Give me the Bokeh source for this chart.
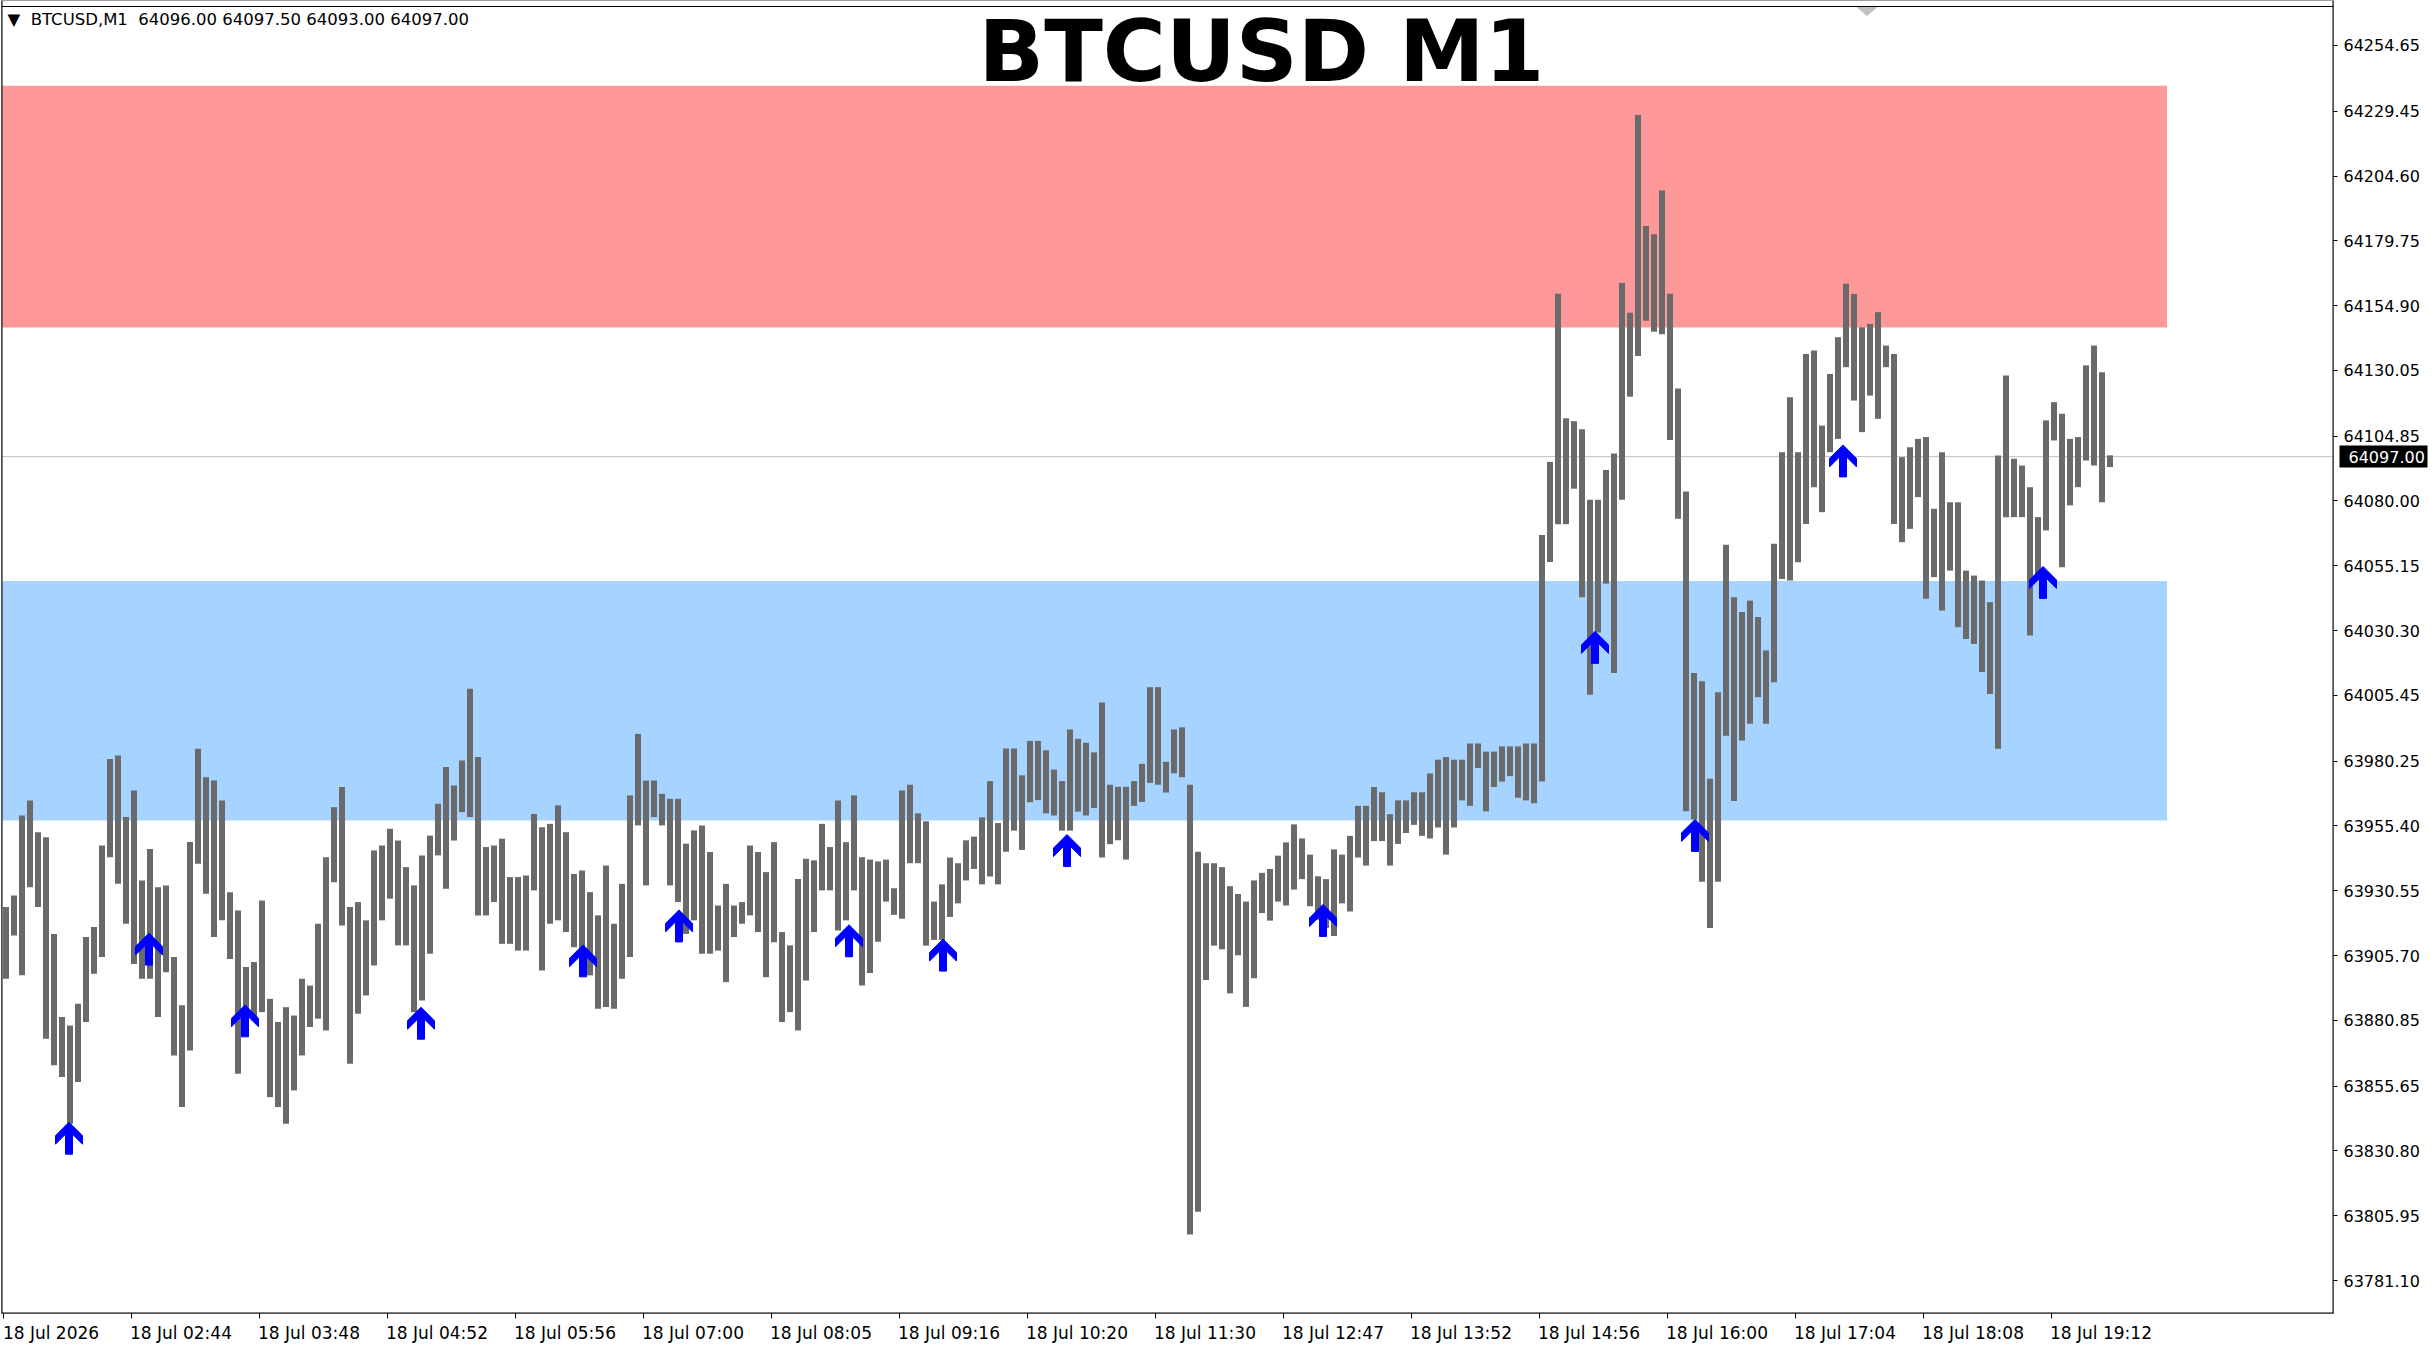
from bokeh.plotting import figure
from bokeh.models import (Range1d, LinearAxis, FixedTicker, PrintfTickFormatter,
                          Span, Label, ColumnDataSource)
from bokeh.embed import file_html
from bokeh.resources import INLINE

# ---------------- data ----------------
chart_title = "BTCUSD M1"
info_text = "\u25BC\u00A0\u00A0BTCUSD,M1\u00A0 64096.00 64097.50 64093.00 64097.00"
last_price = 64097.00
bars_per_group = 4          # each entry below = high / low of 4 one-minute bars

group_high = [
    63924.3, 63928.7, 63959.4, 63965.2, 63953.0, 63951.1, 63914.0, 63882.1, 63878.9, 63887.2,
    63912.8, 63916.6, 63947.9, 63981.1, 63982.4, 63958.8, 63969.0, 63934.5, 63946.6, 63931.9,
    63932.6, 63905.1, 63886.6, 63949.2, 63985.0, 63974.1, 63972.8, 63965.2, 63930.0, 63923.0,
    63901.3, 63903.2, 63926.8, 63889.1, 63880.2, 63885.9, 63882.7, 63896.8, 63894.2, 63917.9,
    63943.4, 63962.6, 63970.3, 63924.3, 63926.2, 63919.2, 63946.0, 63947.9, 63954.3, 63949.8,
    63939.6, 63932.6, 63944.1, 63951.7, 63963.9, 63978.0, 63970.9, 63980.5, 64008.0, 63981.8,
    63947.3, 63947.9, 63950.5, 63935.8, 63935.8, 63936.4, 63960.0, 63954.9, 63956.2, 63963.3,
    63953.0, 63937.0, 63938.3, 63930.0, 63921.1, 63940.2, 63917.9, 63933.2, 63967.1, 63990.7,
    63972.8, 63972.8, 63967.7, 63965.8, 63965.8, 63948.6, 63953.7, 63955.6, 63945.4, 63924.9,
    63933.2, 63924.9, 63926.2, 63947.9, 63945.4, 63937.7, 63949.2, 63914.7, 63909.6, 63935.1,
    63942.8, 63942.2, 63956.2, 63947.3, 63965.2, 63949.2, 63967.1, 63943.4, 63942.5, 63941.8,
    63942.5, 63931.5, 63969.0, 63971.2, 63960.2, 63957.2, 63926.4, 63933.0, 63943.3, 63941.1,
    63949.9, 63951.3, 63958.7, 63972.6, 63956.5, 63985.1, 63985.1, 63974.8, 63988.0, 63988.0,
    63984.4, 63977.0, 63972.6, 63992.4, 63988.8, 63987.3, 63983.6, 64002.7, 63971.2, 63970.4,
    63970.4, 63972.6, 63979.2, 64008.6, 64008.6, 63980.0, 63992.4, 63993.2, 63971.2, 63945.5,
    63941.1, 63941.1, 63939.6, 63932.3, 63929.3, 63926.4, 63934.5, 63937.4, 63938.9, 63944.0,
    63949.1, 63956.0, 63950.6, 63944.4, 63936.1, 63935.0, 63946.4, 63944.4, 63951.6, 63963.1,
    63963.1, 63970.3, 63968.3, 63959.9, 63965.2, 63965.2, 63968.3, 63968.3, 63975.5, 63980.8,
    63981.8, 63980.8, 63980.8, 63987.0, 63987.0, 63983.9, 63983.9, 63985.9, 63985.9, 63985.9,
    63987.0, 63987.0, 64067.0, 64095.0, 64159.5, 64111.7, 64110.6, 64107.5, 64080.5, 64080.5,
    64091.9, 64098.2, 64163.6, 64152.2, 64228.0, 64185.4, 64182.3, 64199.0, 64159.5, 64123.1,
    64083.6, 64014.0, 64010.9, 63973.5, 64006.7, 64063.2, 64043.1, 64037.4, 64041.8, 64035.5,
    64022.7, 64063.6, 64098.7, 64119.8, 64098.7, 64136.4, 64137.7, 64108.9, 64128.7, 64142.8,
    64163.3, 64159.4, 64146.6, 64147.9, 64152.4, 64139.6, 64136.4, 64096.8, 64100.6, 64103.8,
    64104.5, 64077.0, 64098.7, 64079.5, 64079.5, 64053.3, 64051.4, 64049.5, 64041.2, 64097.4,
    64128.1, 64096.2, 64093.6, 64085.3, 64073.8, 64110.9, 64117.9, 64113.4, 64103.8, 64104.5,
    64132.0, 64139.6, 64129.4, 64097.5,
]
group_low = [
    63896.8, 63913.4, 63898.1, 63931.9, 63924.3, 63873.8, 63863.6, 63859.1, 63841.2, 63857.2,
    63880.2, 63898.7, 63905.1, 63943.4, 63933.2, 63917.9, 63902.5, 63896.8, 63896.8, 63882.1,
    63899.3, 63867.4, 63847.6, 63869.3, 63940.9, 63929.4, 63912.8, 63919.2, 63904.4, 63860.4,
    63882.1, 63880.8, 63884.0, 63851.4, 63847.6, 63841.2, 63854.0, 63867.4, 63878.3, 63881.5,
    63877.0, 63933.8, 63917.2, 63864.2, 63883.4, 63890.4, 63901.9, 63919.2, 63927.5, 63909.6,
    63909.6, 63884.0, 63888.5, 63906.4, 63944.1, 63931.3, 63949.8, 63960.7, 63958.8, 63921.1,
    63921.1, 63926.2, 63910.2, 63910.2, 63907.6, 63907.6, 63930.7, 63900.0, 63917.9, 63919.2,
    63914.7, 63908.9, 63902.5, 63898.1, 63885.3, 63886.0, 63885.3, 63896.8, 63905.1, 63955.6,
    63932.6, 63958.8, 63955.6, 63932.6, 63926.2, 63914.0, 63919.2, 63906.4, 63906.4, 63907.6,
    63895.5, 63912.8, 63917.9, 63921.1, 63914.7, 63897.4, 63910.8, 63880.2, 63884.0, 63877.0,
    63896.1, 63914.7, 63930.7, 63930.7, 63915.3, 63919.2, 63930.7, 63894.2, 63899.0, 63911.0,
    63926.4, 63921.3, 63919.8, 63941.1, 63941.1, 63909.5, 63911.7, 63911.7, 63920.5, 63925.7,
    63934.5, 63938.9, 63933.0, 63936.0, 63933.0, 63945.5, 63953.6, 63946.2, 63964.5, 63965.3,
    63960.2, 63959.4, 63953.6, 63953.6, 63960.9, 63959.4, 63962.3, 63943.3, 63948.4, 63949.9,
    63942.5, 63963.1, 63964.6, 63971.9, 63971.2, 63968.2, 63975.6, 63974.1, 63798.7, 63807.5,
    63896.3, 63909.5, 63908.1, 63891.2, 63905.8, 63886.0, 63897.0, 63922.0, 63919.1, 63926.4,
    63924.9, 63931.0, 63935.0, 63924.6, 63919.4, 63916.3, 63913.2, 63925.7, 63922.6, 63943.3,
    63940.2, 63949.6, 63949.6, 63940.2, 63948.5, 63952.7, 63955.8, 63951.6, 63950.6, 63954.8,
    63944.4, 63954.8, 63965.2, 63963.1, 63977.6, 63961.0, 63970.3, 63972.4, 63974.5, 63966.2,
    63965.2, 63964.1, 63972.4, 64056.6, 64071.1, 64071.1, 64084.7, 64043.1, 64005.7, 64029.6,
    64048.3, 64014.0, 64080.5, 64120.0, 64135.6, 64149.1, 64144.9, 64143.9, 64103.4, 64073.2,
    63961.0, 63957.9, 63934.0, 63916.3, 63934.0, 63990.0, 63965.0, 63988.2, 63994.6, 64004.8,
    63994.6, 64010.5, 64050.1, 64049.5, 64056.5, 64071.2, 64085.3, 64075.7, 64098.7, 64103.8,
    64131.3, 64118.5, 64106.4, 64120.4, 64111.5, 64131.3, 64071.2, 64064.2, 64069.3, 64081.5,
    64042.5, 64050.8, 64038.0, 64053.3, 64031.6, 64027.1, 64025.2, 64014.4, 64006.0, 63985.0,
    64073.8, 64073.8, 64073.8, 64028.4, 64049.5, 64068.7, 64103.2, 64054.6, 64078.3, 64085.3,
    64095.5, 64093.6, 64079.5, 64093.0,
]

# buy-signal arrows: bar index and price of the arrow tip
arrow_bar = [33, 73, 121, 209, 290, 338, 423, 470, 532, 660, 796, 846, 920, 1020]
arrow_price = [63841.8, 63914.3, 63886.8, 63885.9, 63909.8, 63923.2, 63917.5,
               63912.0, 63952.1, 63925.3, 64030.0, 63957.9, 64101.5, 64054.9]

# zones (price bounds) and where they end (bar index)
resistance_low, resistance_high = 64146.5, 64239.2
support_low, support_high = 63957.5, 64049.3
zone_end_bar = 1082
shift_marker_bar = 932

# time axis: bar index of each label and its text
time_tick_bars = [0, 64, 128, 192, 256, 320, 384, 448, 512, 576, 640, 704, 768, 832, 896, 960, 1024]
time_labels = ["18 Jul 2026", "18 Jul 02:44", "18 Jul 03:48", "18 Jul 04:52", "18 Jul 05:56",
               "18 Jul 07:00", "18 Jul 08:05", "18 Jul 09:16", "18 Jul 10:20", "18 Jul 11:30",
               "18 Jul 12:47", "18 Jul 13:52", "18 Jul 14:56", "18 Jul 16:00", "18 Jul 17:04",
               "18 Jul 18:08", "18 Jul 19:12"]

price_ticks = [64254.65, 64229.45, 64204.60, 64179.75, 64154.90, 64130.05, 64104.85,
               64080.00, 64055.15, 64030.30, 64005.45, 63980.25, 63955.40, 63930.55,
               63905.70, 63880.85, 63855.65, 63830.80, 63805.95, 63781.10]

# ---------------- figure ----------------
FONT = "DejaVu Sans"
W, H = 2436, 1346
PX_PER_BAR = 2.0
PX_PER_PRICE = 2.6084
X0, X1 = -0.75, 1165.25
Y0, Y1 = 63768.45, 64271.90          # frame spans page y 0 .. 1313


def price_at(py):
    """price at a given pixel distance below the top of the frame"""
    return Y1 - py / PX_PER_PRICE


p = figure(width=W, height=H, output_backend="svg", toolbar_location=None,
           x_range=Range1d(X0, X1), y_range=Range1d(Y0, Y1),
           x_axis_location=None, y_axis_location=None,
           min_border_left=1, min_border_right=103, min_border_top=0, min_border_bottom=33)
p.grid.visible = False
p.background_fill_color = "white"
p.border_fill_color = "white"
p.outline_line_color = "#A0A0A0"
p.outline_line_width = 1

# zones
p.quad(left=[X0 - 10, X0 - 10], right=[zone_end_bar, zone_end_bar],
       bottom=[resistance_low, support_low], top=[resistance_high, support_high],
       fill_color=["#FF9999", "#A6D3FF"], line_color=None)

# current price line
p.add_layout(Span(location=last_price, dimension="width", line_color="#C0C0C0",
                  line_width=1, level="underlay"))

# chart border (top, left, right, bottom)
p.add_layout(Span(location=price_at(6), dimension="width", line_color="black", line_width=1))
p.add_layout(Span(location=X0, dimension="height", line_color="black", line_width=2))
p.add_layout(Span(location=X1, dimension="height", line_color="black", line_width=2))
p.add_layout(Span(location=Y0, dimension="width", line_color="black", line_width=2))

# price bars (each drawn as the high-low range of its group)
gx = [g * bars_per_group + 1.5 for g in range(len(group_high))]
src = ColumnDataSource(dict(x=gx, top=group_high, bottom=group_low))
p.vbar(x="x", width=3.0, top="top", bottom="bottom", source=src,
       fill_color="#6A6A6A", line_color=None)

# arrows (shape in pixels, converted into data units)
shape_px = [(0, 0), (13.5, 13.5), (13.5, 22), (3.5, 12), (3.5, 32), (-3.5, 32),
            (-3.5, 12), (-13.5, 22), (-13.5, 13.5)]
axs = [[b + dx / PX_PER_BAR for dx, dy in shape_px] for b in arrow_bar]
ays = [[pr - dy / PX_PER_PRICE for dx, dy in shape_px] for pr in arrow_price]
p.patches(xs=axs, ys=ays, fill_color="#0000FF", line_color="#0000FF", line_width=1)

# chart-shift marker under the top border
p.patch(x=[shift_marker_bar - 9.5 / PX_PER_BAR, shift_marker_bar + 9.5 / PX_PER_BAR, shift_marker_bar],
        y=[price_at(7), price_at(7), price_at(15)],
        fill_color="#C0C0C0", line_color="#C0C0C0")

# right price axis
yax = LinearAxis(ticker=FixedTicker(ticks=price_ticks, minor_ticks=[]),
                 formatter=PrintfTickFormatter(format="%.2f"),
                 major_tick_out=4, major_tick_in=0, minor_tick_out=0, minor_tick_in=0,
                 major_label_standoff=6, axis_line_color=None,
                 major_tick_line_color="black",
                 major_label_text_font=FONT, major_label_text_font_size="16px",
                 major_label_text_color="black")
p.add_layout(yax, "right")

# current price tag (a second right axis with one thick inward tick)
tag = LinearAxis(ticker=FixedTicker(ticks=[last_price], minor_ticks=[]),
                 formatter=PrintfTickFormatter(format="%.2f"),
                 major_tick_in=83, major_tick_out=5, minor_tick_out=0, minor_tick_in=0,
                 major_tick_line_width=22, major_tick_line_color="black",
                 major_label_standoff=-79, axis_line_color=None,
                 major_label_text_font=FONT, major_label_text_font_size="16px",
                 major_label_text_color="white")
p.add_layout(tag, "right")

# bottom axis: tick marks
xax_ticks = LinearAxis(ticker=FixedTicker(ticks=time_tick_bars, minor_ticks=[]),
                       major_tick_out=5, major_tick_in=0, minor_tick_out=0, minor_tick_in=0,
                       major_label_standoff=0, major_label_text_font_size="0px",
                       major_label_overrides={t: "" for t in time_tick_bars},
                       axis_line_color=None, major_tick_line_color="black")
p.add_layout(xax_ticks, "below")

# bottom axis: labels, left-aligned to their ticks
label_shift = [24] + [25] * (len(time_tick_bars) - 1)
label_pos = [t + s for t, s in zip(time_tick_bars, label_shift)]
xax_labels = LinearAxis(ticker=FixedTicker(ticks=label_pos, minor_ticks=[]),
                        major_tick_out=0, major_tick_in=0, minor_tick_out=0, minor_tick_in=0,
                        major_label_standoff=4, axis_line_color=None,
                        major_label_overrides={lp: txt for lp, txt in zip(label_pos, time_labels)},
                        major_label_text_font=FONT, major_label_text_font_size="17px",
                        major_label_text_color="black")
p.add_layout(xax_labels, "below")

# title
p.add_layout(Label(x=629.25, y=price_at(0.5), text=chart_title, text_align="center",
                   text_baseline="top", text_font=FONT,
                   text_font_style="bold", text_font_size="86px", text_color="black"))

# info text top-left
p.add_layout(Label(x=2.25, y=price_at(19), text=info_text, text_align="left",
                   text_baseline="middle", text_font=FONT,
                   text_font_size="16.5px", text_color="black"))

open("out.html", "w").write(file_html(p, INLINE))
